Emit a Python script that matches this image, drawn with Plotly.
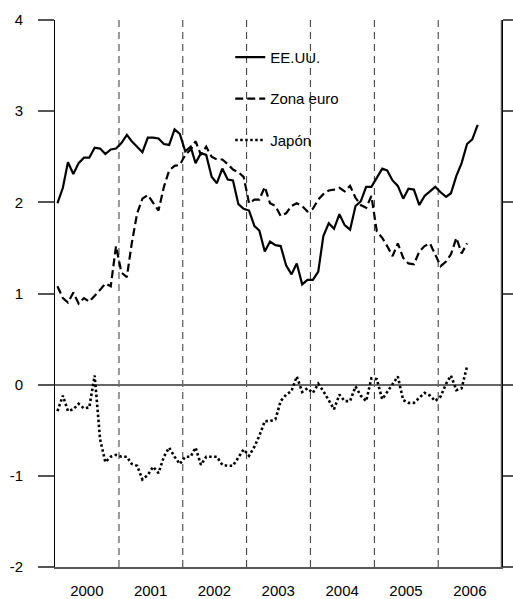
import plotly.graph_objects as go

# ---- data (monthly, starting Jan 2000) ----
years = [2000, 2001, 2002, 2003, 2004, 2005, 2006]
year_labels = ["2000", "2001", "2002", "2003", "2004", "2005", "2006"]

eeuu = [1.99, 2.16, 2.44, 2.31, 2.43, 2.49, 2.49, 2.60, 2.59, 2.53, 2.58, 2.59,
        2.65, 2.74, 2.67, 2.61, 2.55, 2.71, 2.71, 2.70, 2.64, 2.63, 2.80, 2.75,
        2.56, 2.61, 2.43, 2.54, 2.52, 2.28, 2.21, 2.37, 2.25, 2.24, 1.98, 1.93,
        1.91, 1.74, 1.69, 1.46, 1.57, 1.53, 1.52, 1.31, 1.21, 1.33, 1.10, 1.15,
        1.15, 1.24, 1.63, 1.77, 1.71, 1.87, 1.75, 1.70, 1.96, 2.01, 2.17, 2.17,
        2.27, 2.37, 2.35, 2.24, 2.18, 2.04, 2.15, 2.14, 1.97, 2.07, 2.12, 2.17,
        2.11, 2.06, 2.10, 2.29, 2.43, 2.64, 2.69, 2.85]

zona_euro = [1.08, 0.95, 0.90, 1.01, 0.89, 0.95, 0.91, 0.97, 1.04, 1.11, 1.08, 1.52,
             1.23, 1.18, 1.55, 1.88, 2.04, 2.08, 2.00, 1.91, 2.17, 2.35, 2.40, 2.41,
             2.52, 2.58, 2.67, 2.52, 2.61, 2.50, 2.47, 2.47, 2.42, 2.36, 2.33, 2.28,
             1.99, 2.03, 2.03, 2.17, 1.99, 1.96, 1.85, 1.88, 1.96, 1.99, 1.96, 1.90,
             1.93, 2.03, 2.09, 2.13, 2.14, 2.16, 2.12, 2.18, 2.05, 1.97, 1.94, 2.07,
             1.68, 1.61, 1.52, 1.41, 1.55, 1.39, 1.33, 1.32, 1.46, 1.52, 1.55, 1.43,
             1.30, 1.35, 1.43, 1.61, 1.44, 1.55]

japon = [-0.29, -0.12, -0.29, -0.27, -0.21, -0.26, -0.25, 0.10, -0.60, -0.85, -0.79, -0.77,
         -0.79, -0.79, -0.87, -0.89, -1.04, -0.99, -0.90, -0.97, -0.79, -0.69, -0.79, -0.87,
         -0.79, -0.79, -0.69, -0.88, -0.79, -0.79, -0.79, -0.88, -0.89, -0.89, -0.80, -0.71,
         -0.78, -0.68, -0.56, -0.40, -0.40, -0.38, -0.18, -0.11, -0.07, 0.09, -0.08, -0.04,
         -0.09, 0.01, -0.07, -0.18, -0.27, -0.11, -0.18, -0.18, -0.02, -0.12, -0.18, 0.07,
         0.06, -0.16, -0.08, 0.01, 0.09, -0.17, -0.20, -0.20, -0.14, -0.09, -0.12, -0.18,
         -0.13, 0.01, 0.10, -0.06, -0.04, 0.20]

y_ticks = [-2, -1, 0, 1, 2, 3, 4]


def month_dates(n, start_year=2000):
    return [f"{start_year + i // 12}-{i % 12 + 1:02d}-15" for i in range(n)]


FONT = "Liberation Sans, Arial, sans-serif"

fig = go.Figure()
fig.add_trace(go.Scatter(x=month_dates(len(eeuu)), y=eeuu, mode="lines", name="EE.UU.",
                         legendgroup="a", line=dict(color="black", width=2.2)))
fig.add_trace(go.Scatter(x=month_dates(len(zona_euro)), y=zona_euro, mode="lines", name="Zona euro",
                         legendgroup="b", line=dict(color="black", width=2.2, dash="8px,4px")))
fig.add_trace(go.Scatter(x=month_dates(len(japon)), y=japon, mode="lines", name="Japón",
                         legendgroup="c", line=dict(color="black", width=2.6, dash="2.5px,2.5px")))

shapes = []
for yr in years[1:]:
    shapes.append(dict(type="line", xref="x", yref="paper", x0=f"{yr}-01-01", x1=f"{yr}-01-01",
                       y0=0, y1=1, layer="below",
                       line=dict(color="#333", width=1, dash="7px,5px")))
end = f"{years[-1] + 1}-01-01"
shapes.append(dict(type="line", xref="x", yref="paper", x0=end, x1=end, y0=0, y1=1,
                   line=dict(color="#555", width=2.5)))

fig.update_layout(
    width=513, height=599,
    margin=dict(l=55, r=11, t=20, b=32, autoexpand=False),
    paper_bgcolor="white", plot_bgcolor="white",
    font=dict(family=FONT, size=15, color="black"),
    showlegend=True,
    legend=dict(x=0.392, y=0.962, xanchor="left", yanchor="top",
                bgcolor="rgba(0,0,0,0)", font=dict(size=15, family=FONT),
                tracegroupgap=19, itemwidth=30),
    shapes=shapes,
    xaxis=dict(type="date", range=[f"{years[0]}-01-01", end],
               tickvals=[f"{y}-07-01" for y in years], ticktext=year_labels,
               ticks="", showgrid=False, showline=True, linecolor="#555", linewidth=1.5,
               tickfont=dict(size=15, family=FONT), zeroline=False,
               automargin=False, ticklabelstandoff=9),
    yaxis=dict(range=[-2, 4], tickvals=y_ticks, ticktext=[str(v) for v in y_ticks],
               ticks="outside", ticklen=16, tickcolor="#555", tickwidth=1.5,
               showline=True, linecolor="black", linewidth=1, mirror="ticks",
               zeroline=True, zerolinecolor="#666", zerolinewidth=1.5,
               showgrid=False, tickfont=dict(size=15, family=FONT),
               ticklabelstandoff=12, automargin=False),
)

fig.write_html("out.html",
               config={"displayModeBar": False},
               post_script="document.body.style.margin='0';document.body.style.overflow='hidden';")
